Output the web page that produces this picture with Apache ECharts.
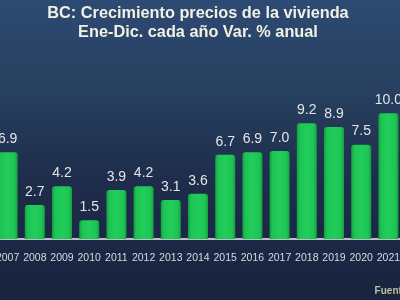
<!DOCTYPE html>
<html>
<head>
<meta charset="utf-8">
<style>
html,body{margin:0;padding:0;background:#1b2642;overflow:hidden;width:400px;height:300px;}
#c{position:absolute;left:-6.6px;top:0;width:409.5px;height:300px;}
</style>
<script src="https://cdn.jsdelivr.net/npm/echarts@6/dist/echarts.min.js"></script>
</head>
<body>
<div id="c"></div>
<script>
var titleText = 'BC: Crecimiento precios de la vivienda\nEne-Dic. cada año Var. % anual';
var years = ['2007','2008','2009','2010','2011','2012','2013','2014','2015','2016','2017','2018','2019','2020','2021'];
var values = [6.9, 2.7, 4.2, 1.5, 3.9, 4.2, 3.1, 3.6, 6.7, 6.9, 7.0, 9.2, 8.9, 7.5, 10.0];
var sourceText = 'Fuente: BC';

var chart = echarts.init(document.getElementById('c'), null, {renderer: 'canvas'});
chart.setOption({
  animation: false,
  backgroundColor: {
    type: 'linear', x: 0, y: 0, x2: 0, y2: 1,
    colorStops: [
      {offset: 0, color: '#2d4a73'},
      {offset: 0.3, color: '#27405f'},
      {offset: 0.6, color: '#1e2d4b'},
      {offset: 1, color: '#19233e'}
    ]
  },
  title: {
    text: titleText,
    left: 'center',
    top: 4.5,
    padding: 0,
    textStyle: {
      color: '#f1f1e4',
      fontFamily: 'Liberation Sans, Arial, sans-serif',
      fontWeight: 'bold',
      fontSize: 16.3,
      lineHeight: 19
    }
  },
  grid: {left: 0, right: 0, top: 88, bottom: 61, containLabel: false},
  xAxis: {
    type: 'category',
    data: years,
    axisLine: {show: true, lineStyle: {color: '#b9c2cc', width: 2}},
    axisTick: {show: false},
    axisLabel: {
      color: '#d6dae2',
      fontFamily: 'Liberation Sans, Arial, sans-serif',
      fontSize: 10.5,
      margin: 14,
      interval: 0
    }
  },
  yAxis: {
    type: 'value',
    min: 0,
    max: 12,
    show: false,
    splitLine: {show: false}
  },
  series: [{
    type: 'bar',
    data: values,
    barWidth: 20,
    itemStyle: {
      borderRadius: [3, 3, 0, 0],
      color: {
        type: 'linear', x: 0, y: 0, x2: 1, y2: 0,
        colorStops: [
          {offset: 0, color: '#139e40'},
          {offset: 0.15, color: '#1dc454'},
          {offset: 0.5, color: '#22cd5a'},
          {offset: 0.85, color: '#1dc454'},
          {offset: 1, color: '#139e40'}
        ]
      }
    },
    label: {
      show: true,
      position: 'top',
      distance: 6,
      formatter: function (p) { return p.value.toFixed(1); },
      color: '#e2e4e8',
      fontFamily: 'Liberation Sans, Arial, sans-serif',
      fontSize: 14
    }
  }],
  graphic: [{
    type: 'text',
    left: 381.6,
    top: 286,
    style: {
      text: sourceText,
      fill: '#b7c2a6',
      font: 'bold 10px Liberation Sans, Arial, sans-serif'
    }
  }]
});
</script>
</body>
</html>
